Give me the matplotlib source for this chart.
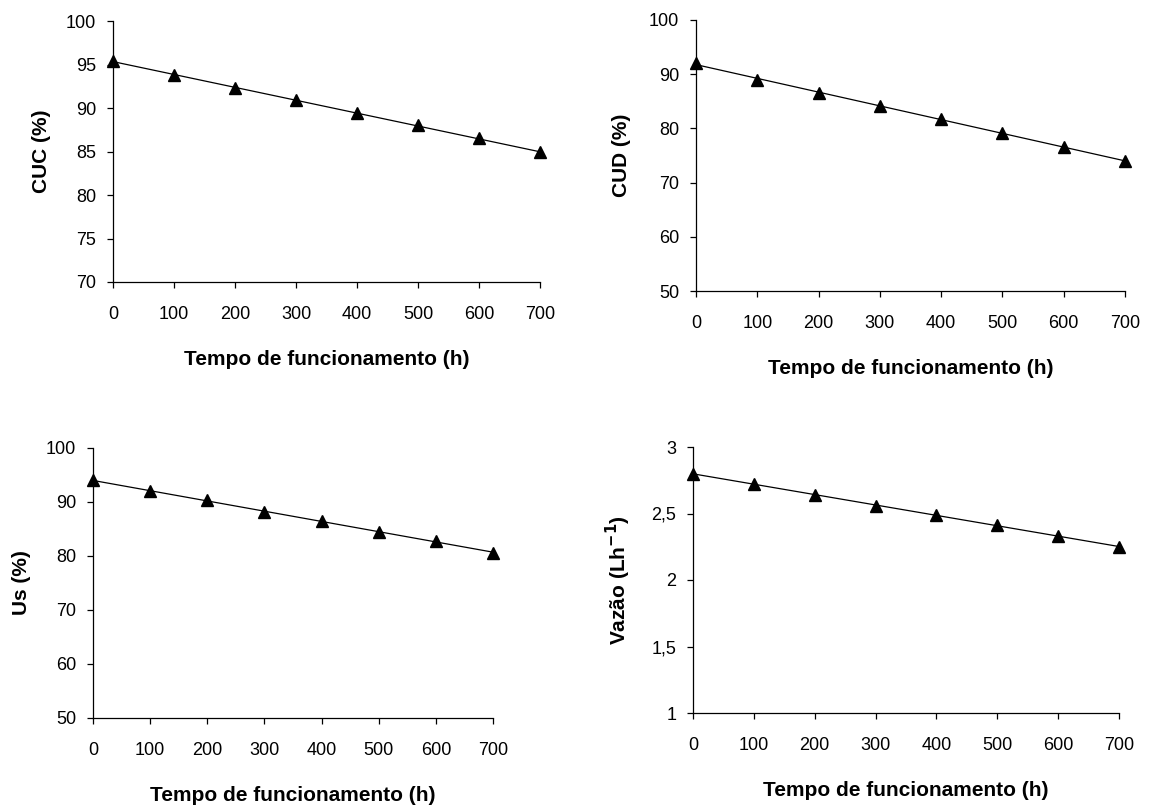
import numpy as np
import matplotlib
matplotlib.use("Agg")
import matplotlib.pyplot as plt

plt.rcParams["font.family"] = ["Liberation Sans", "DejaVu Sans"]

# Data
horas = [0, 100, 200, 300, 400, 500, 600, 700]
cuc = [95.4, 93.8, 92.3, 90.9, 89.4, 88.0, 86.5, 84.9]
cud = [92.0, 89.0, 86.6, 84.1, 81.7, 79.2, 76.5, 74.0]
us = [94.0, 92.0, 90.3, 88.2, 86.5, 84.5, 82.7, 80.6]
vazao = [2.80, 2.72, 2.64, 2.56, 2.49, 2.41, 2.33, 2.25]

W, H = 1152, 809
fig = plt.figure(figsize=(W / 100, H / 100), dpi=100)


def px_axes(x0, y0, x1, y1):
    # pixel box (left, top, right, bottom) -> figure fraction
    return fig.add_axes([x0 / W, 1 - y1 / H, (x1 - x0) / W, (y1 - y0) / H])


def panel(box, y, ylim, yticks, ylabel, ytl=None, xlab_pad=30, ylab_pad=None):
    ax = px_axes(*box)
    coef = np.polyfit(horas, y, 1)
    ax.plot(horas, np.polyval(coef, horas), color="black", lw=0.9, zorder=2)
    ax.plot(horas, y, linestyle="none", marker="^", ms=9, color="black", zorder=3)
    ax.set_xlim(0, 700)
    ax.set_ylim(*ylim)
    ax.set_xticks(horas)
    ax.set_yticks(yticks)
    if ytl is not None:
        ax.set_yticklabels(ytl)
    ax.spines["top"].set_visible(False)
    ax.spines["right"].set_visible(False)
    for s in ("left", "bottom"):
        ax.spines[s].set_linewidth(0.9)
    ax.tick_params(axis="both", direction="out", length=4, width=0.9, labelsize=13)
    ax.tick_params(axis="x", pad=13)
    ax.tick_params(axis="y", pad=8)
    ax.set_xlabel("Tempo de funcionamento (h)", fontsize=15, fontweight="bold",
                  labelpad=xlab_pad)
    ax.set_ylabel(ylabel, fontsize=15, fontweight="bold", labelpad=ylab_pad)
    for ln in ax.lines:
        ln.set_clip_on(False)
    return ax


panel((113, 21, 540, 282), cuc, (70, 100), [70, 75, 80, 85, 90, 95, 100], "CUC (%)",
      xlab_pad=20, ylab_pad=11)
panel((696, 20, 1125, 291), cud, (50, 100), [50, 60, 70, 80, 90, 100], "CUD (%)",
      xlab_pad=20, ylab_pad=13)
panel((93, 448, 493, 718), us, (50, 100), [50, 60, 70, 80, 90, 100], "Us (%)",
      xlab_pad=20, ylab_pad=11)
panel((693, 447, 1119, 713), vazao, (1, 3), [1, 1.5, 2, 2.5, 3], "Vazão (Lh$^{\\mathbf{-1}}$)",
      ytl=["1", "1,5", "2", "2,5", "3"], xlab_pad=20, ylab_pad=13)

fig.savefig("out.png", dpi=100)
